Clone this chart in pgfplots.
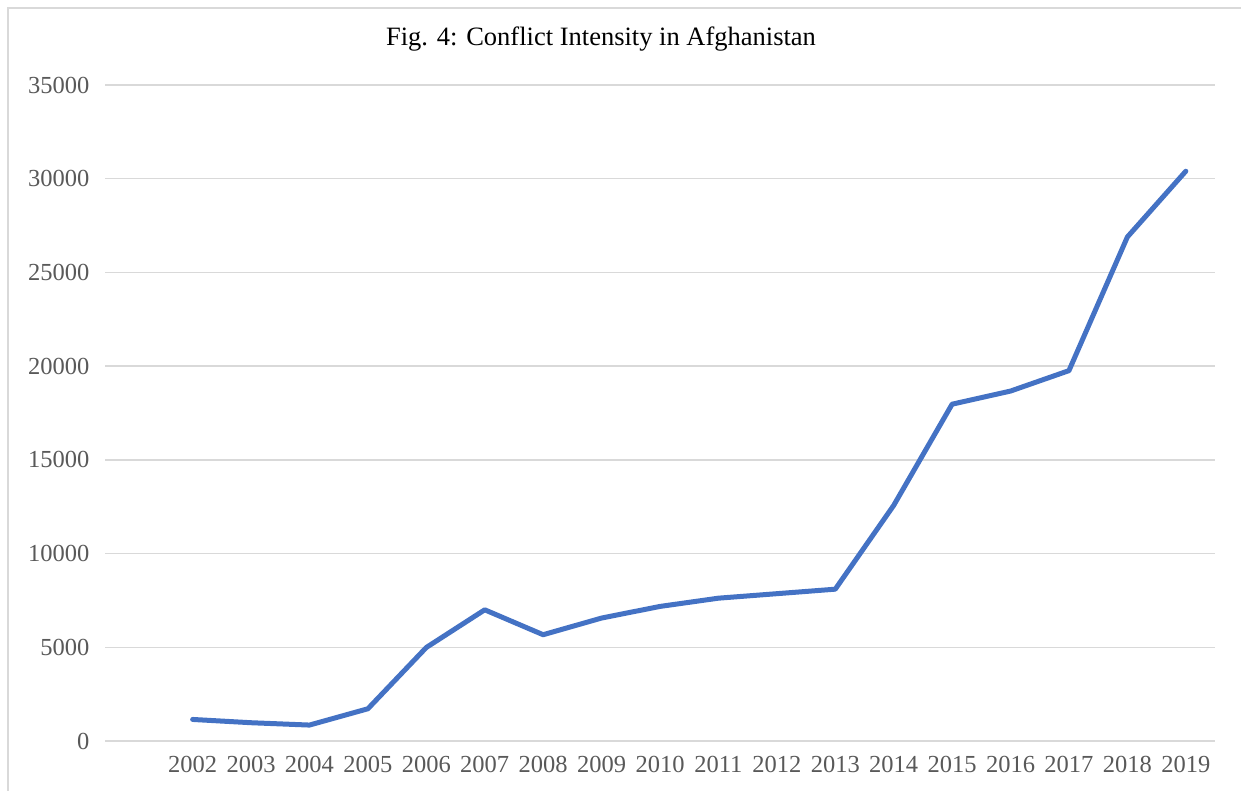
\documentclass[border=0pt]{standalone}
\usepackage{pgfplots}
\pgfplotsset{compat=1.18}
\usepackage{fontspec}
\setmainfont{Liberation Serif}
\definecolor{lineblue}{HTML}{4472C4}
\definecolor{gridgray}{HTML}{D9D9D9}
\definecolor{ticktext}{HTML}{595959}
\begin{document}
\begin{tikzpicture}
\path[use as bounding box] (0,0) rectangle (1241bp,791bp);
\draw[gridgray, line width=1.6bp] (8bp,0) -- (8bp,783bp) -- (1241bp,783bp);
\node[font=\fontsize{26.5bp}{30bp}\selectfont, text=black] at (601bp,752bp) {Fig. 4: Conflict Intensity in Afghanistan};
\begin{axis}[
  at={(105bp,50bp)}, anchor=south west,
  scale only axis, width=1110bp, height=656bp,
  xmin=-0.5, xmax=18.5, ymin=0, ymax=35000,
  axis line style={draw=none},
  axis x line*=bottom,
  xtick={1,...,18},
  xticklabels={2002,2003,2004,2005,2006,2007,2008,2009,2010,2011,2012,2013,2014,2015,2016,2017,2018,2019},
  ytick={0,5000,...,35000},
  major tick length=0pt,
  ymajorgrids, grid style={gridgray, line width=1.3bp},
  /pgf/number format/assume math mode=true,
  /pgf/number format/1000 sep={},
  scaled y ticks=false,
  tick label style={font=\fontsize{24.5bp}{28bp}\selectfont, text=ticktext},
  yticklabel style={xshift=-12bp},
  xticklabel style={yshift=-12bp},
  clip=false,
]
\addplot[lineblue, line width=5bp, line cap=round, line join=round] coordinates {
(1,1150) (2,975) (3,850) (4,1720) (5,4990) (6,7000) (7,5670) (8,6560) (9,7180)
(10,7620) (11,7860) (12,8100) (13,12570) (14,17970) (15,18670) (16,19760) (17,26890) (18,30400)
};
\end{axis}
\end{tikzpicture}
\end{document}
